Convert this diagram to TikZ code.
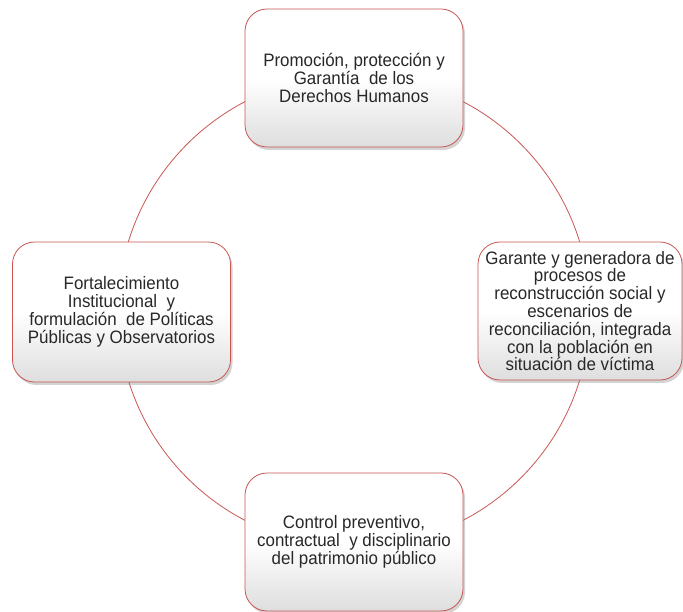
\documentclass[tikz,border=0pt]{standalone}
\usepackage{fontspec}
\setmainfont{Liberation Sans}[FakeStretch=0.94]
\usetikzlibrary{shadows}
\definecolor{boxred}{RGB}{200,85,82}
\definecolor{txt}{RGB}{40,40,40}
\begin{document}
\begin{tikzpicture}[x=1pt,y=-1pt,
  box/.style={draw=boxred, line width=0.8pt, rounded corners=22pt,
    top color=white, bottom color=black!13, middle color=white,
    drop shadow={shadow xshift=2pt,shadow yshift=-3pt,opacity=0.35},
    align=center, text=txt, inner sep=0pt,
    font=\fontsize{18}{17.8}\selectfont},
  ring/.style={draw=boxred, line width=0.8pt}]
\useasboundingbox (0,0) rectangle (683,612);
\coordinate (c) at (354,311);
\draw[ring] (c) circle[radius=236];
\node[box, minimum width=218pt, minimum height=138pt] (top) at (354,78)
  {Promoción, protección y\\Garantía \ de los\\Derechos Humanos};
\node[box, minimum width=204pt, minimum height=138pt] (right) at (580,311)
  {Garante y generadora de\\procesos de\\reconstrucción social y\\escenarios de\\reconciliación, integrada\\con la población en\\situación de víctima};
\node[box, minimum width=218pt, minimum height=140pt] (left) at (121.5,312)
  {Fortalecimiento\\Institucional \ y\\formulación \ de Políticas\\Públicas y Observatorios};
\node[box, minimum width=218pt, minimum height=138pt] (bottom) at (354,542)
  {Control preventivo,\\contractual \ y disciplinario\\del patrimonio público};
\end{tikzpicture}
\end{document}
